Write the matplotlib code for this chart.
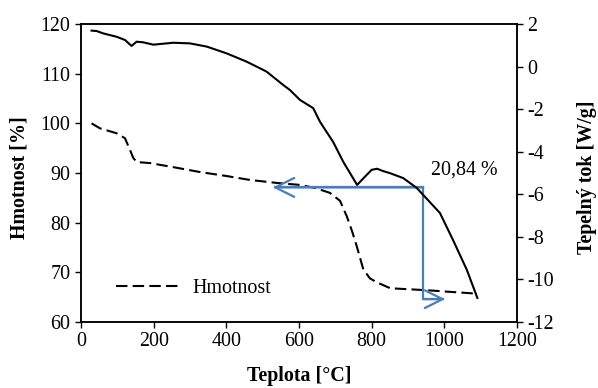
import matplotlib
matplotlib.use("Agg")
import matplotlib.pyplot as plt

# ---- data ----
temp_mass = [29, 52, 98, 121, 135, 144, 154, 190, 260, 327, 400, 465, 539, 603, 644,
             685, 713, 732, 746, 760, 777, 795, 814, 851, 900, 952, 1010, 1071, 1090]
mass = [100, 99, 98, 97, 94.6, 93, 92.2, 92, 91.1, 90.2, 89.4, 88.6, 88, 87.6, 87.0,
        86.0, 84.4, 81.2, 78.3, 75.0, 70.6, 68.8, 68.0, 66.8, 66.6, 66.4, 66.1, 65.8, 65.7]

temp_heat = [29, 43, 61, 98, 121, 139, 153, 171, 199, 254, 300, 346, 401, 456, 502, 511,
             557, 575, 603, 639, 658, 694, 722, 760, 780, 800, 815, 830, 851, 887, 924,
             988, 1024, 1062, 1091]
heat = [1.69, 1.67, 1.56, 1.40, 1.25, 0.97, 1.17, 1.14, 1.03, 1.12, 1.09, 0.94, 0.62,
        0.23, -0.16, -0.24, -0.87, -1.1, -1.57, -1.95, -2.6, -3.54, -4.48, -5.56, -5.2,
        -4.85, -4.8, -4.9, -5.01, -5.24, -5.7, -6.88, -8.15, -9.55, -10.87]

# annotation of mass loss (blue arrows)
loss_level = 87.1
loss_bottom = 64.6
loss_x = 942
arrow_left_tip = 528
arrow_right_tip = 1002
loss_text = "20,84 %"

x_ticks = [0, 200, 400, 600, 800, 1000, 1200]
left_ticks = [60, 70, 80, 90, 100, 110, 120]
right_ticks = [-12, -10, -8, -6, -4, -2, 0, 2]

plt.rcParams['font.family'] = ['Liberation Serif', 'DejaVu Serif']
plt.rcParams['axes.unicode_minus'] = False
FS = 14.4
BLUE = '#4a7ebb'

fig = plt.figure(figsize=(5.98, 3.88), dpi=100)
ax = fig.add_axes([0.1355, 0.1701, 0.729, 0.768])
ax2 = ax.twinx()

ax.plot(temp_mass, mass, color='black', lw=1.5, linestyle=(0, (5.5, 2.5)), label='Hmotnost')
ax2.plot(temp_heat, heat, color='black', lw=1.5)

ax.set_xlim(0, 1200)
ax.set_ylim(60, 120)
ax2.set_ylim(-12, 2)
ax.set_xticks(x_ticks)
ax.set_yticks(left_ticks)
ax2.set_yticks(right_ticks)

for a in (ax, ax2):
    a.tick_params(direction='out', length=4.5, width=1, labelsize=FS, pad=3)
    for s in a.spines.values():
        s.set_linewidth(1.1)
        s.set_color('black')

# blue arrows
ax.plot([arrow_left_tip + 5, loss_x, loss_x, arrow_right_tip - 5],
        [loss_level, loss_level, loss_bottom, loss_bottom], color=BLUE, lw=1.6,
        solid_joinstyle='miter')
ax.annotate('', xy=(arrow_left_tip, loss_level), xytext=(loss_x, loss_level),
            arrowprops=dict(arrowstyle='->', color=BLUE, lw=1.6, mutation_scale=34,
                            shrinkA=0, shrinkB=0))
ax.annotate('', xy=(arrow_right_tip, loss_bottom), xytext=(loss_x, loss_bottom),
            arrowprops=dict(arrowstyle='->', color=BLUE, lw=1.6, mutation_scale=32,
                            shrinkA=0, shrinkB=0))
ax.text(963, 90.6, loss_text, fontsize=FS, ha='left', va='center')

ax.set_xlabel('Teplota [°C]', fontsize=FS, fontweight='bold')
ax.set_ylabel('Hmotnost [%]', fontsize=FS, fontweight='bold')
ax2.set_ylabel('Tepelný tok [W/g]', fontsize=FS, fontweight='bold', rotation=90)
ax.xaxis.set_label_coords(0.5, -0.147)
ax.yaxis.set_label_coords(-0.119, 0.485)
ax2.yaxis.set_label_coords(1.138, 0.487)

ax.legend(loc='center left', bbox_to_anchor=(0.08, 0.111), frameon=False,
          fontsize=FS, handlelength=3.25, handletextpad=0.6, borderpad=0,
          borderaxespad=0)

fig.savefig('out.png', dpi=100)
